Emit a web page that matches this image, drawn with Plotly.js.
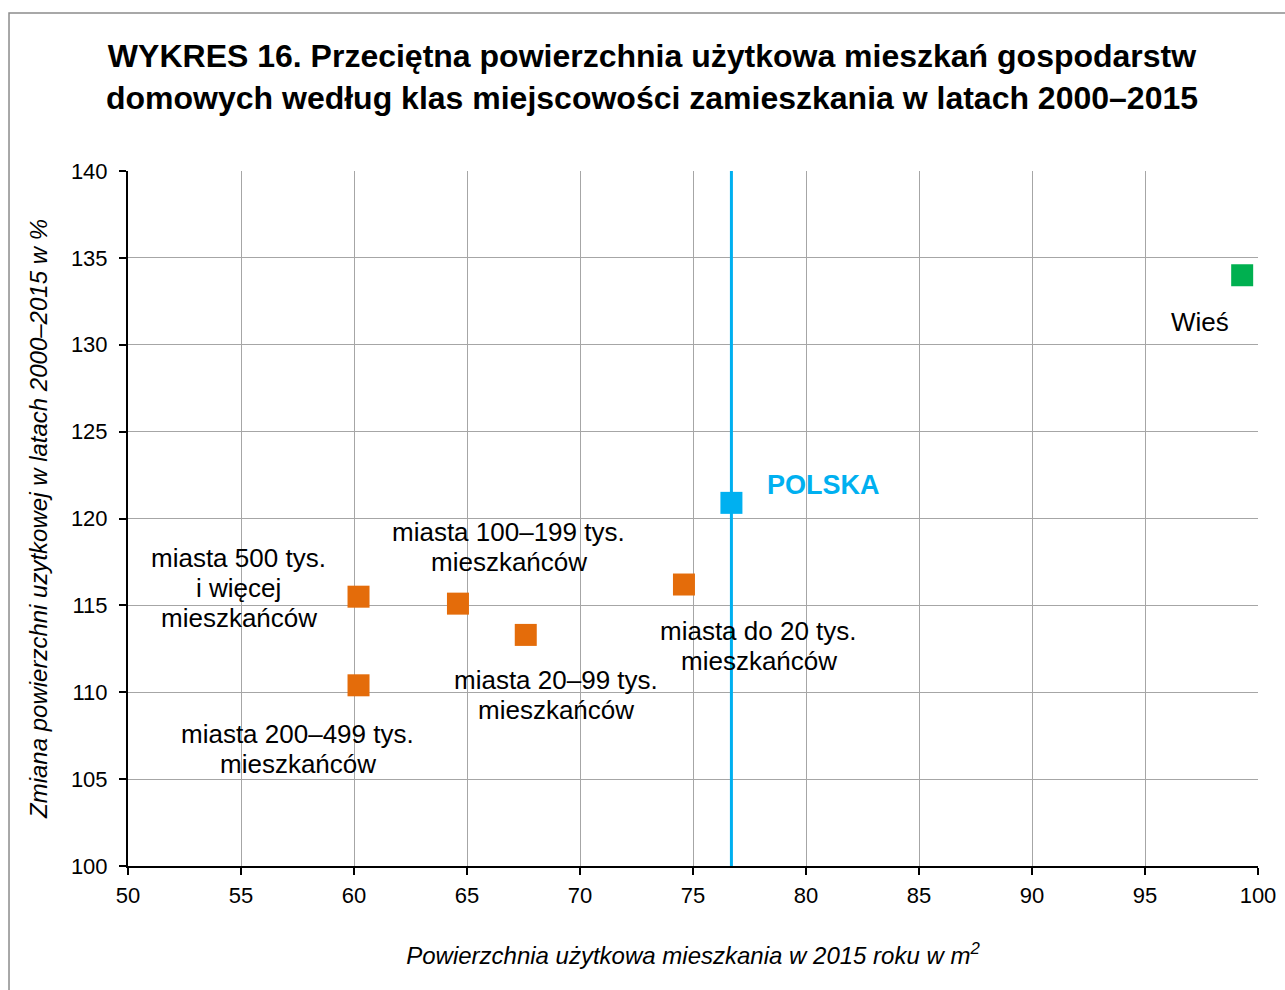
<!DOCTYPE html>
<html>
<head>
<meta charset="utf-8">
<script src="https://cdn.plot.ly/plotly-3.0.1.min.js"></script>
<style>
html,body{margin:0;padding:0;background:#fff;}
#chart{width:1285px;height:990px;}
</style>
</head>
<body>
<div id="chart"></div>
<script>
// ---- data ----
const cityNames = ["miasta 500 tys.<br>i więcej<br>mieszkańców", "miasta 200–499 tys.<br>mieszkańców", "miasta 100–199 tys.<br>mieszkańców", "miasta 20–99 tys.<br>mieszkańców", "miasta do 20 tys.<br>mieszkańców"];
const cityArea = [60.2, 60.2, 64.6, 67.6, 74.6];
const cityChange = [115.5, 110.4, 115.1, 113.3, 116.2];
const ruralName = ["Wieś"];
const ruralArea = [99.3];
const ruralChange = [134.0];
const polandName = ["POLSKA"];
const polandArea = [76.7];
const polandChange = [120.9];
const polandLineX = [76.7, 76.7];
const polandLineY = [100, 140];
const xTicks = [50, 55, 60, 65, 70, 75, 80, 85, 90, 95, 100];
const yTicks = [100, 105, 110, 115, 120, 125, 130, 135, 140];

// label offsets (pixels) relative to each point
const cityShift = [[-120, 9], [-61, -64], [51, 57], [30, -60], [75, -61]];
const ruralShift = [-42, -47];
const polandShift = [92, 18];
const LINE_GAP = 30;

const FONT = "Liberation Sans, Arial, sans-serif";
const ORANGE = "#E46C0A", BLUE = "#00B0F0", GREEN = "#00B050";

const traces = [
  {x: polandLineX, y: polandLineY, mode: "lines", line: {color: BLUE, width: 3}, hoverinfo: "skip", showlegend: false},
  {x: cityArea, y: cityChange, mode: "markers", marker: {symbol: "square", size: 22, color: ORANGE}, showlegend: false},
  {x: ruralArea, y: ruralChange, mode: "markers", marker: {symbol: "square", size: 22, color: GREEN}, showlegend: false},
  {x: polandArea, y: polandChange, mode: "markers", marker: {symbol: "square", size: 22, color: BLUE}, showlegend: false}
];

const annotations = [];
function addLabel(text, x, y, shift, font) {
  const lines = text.split("<br>");
  const n = lines.length;
  lines.forEach((ln, k) => annotations.push({
    x: x, y: y, xref: "x", yref: "y", text: ln, showarrow: false,
    xshift: shift[0], yshift: shift[1] - (k - (n - 1) / 2) * LINE_GAP,
    xanchor: "center", yanchor: "middle", align: "center", font: font
  }));
}
const labelFont = {family: FONT, size: 26, color: "#000"};
cityNames.forEach((n, i) => addLabel(n, cityArea[i], cityChange[i], cityShift[i], labelFont));
addLabel(ruralName[0], ruralArea[0], ruralChange[0], ruralShift, labelFont);
addLabel("<b>" + polandName[0] + "</b>", polandArea[0], polandChange[0], polandShift, {family: FONT, size: 27, color: BLUE});

const layout = {
  width: 1285, height: 990,
  margin: {l: 128, r: 27, t: 171, b: 124},
  paper_bgcolor: "#fff", plot_bgcolor: "#fff",
  font: {family: FONT, color: "#000"},
  title: {
    text: "<b>WYKRES 16. Przeciętna powierzchnia użytkowa mieszkań gospodarstw<br>domowych według klas miejscowości zamieszkania w latach 2000–2015</b>",
    x: 0.5074, xref: "container", xanchor: "center",
    y: 0.932, yref: "container", yanchor: "top",
    font: {family: FONT, size: 32, color: "#000"}
  },
  xaxis: {
    range: [50, 100], tickvals: xTicks, ticktext: xTicks.map(String),
    showgrid: true, gridcolor: "#a6a6a6", gridwidth: 1,
    zeroline: false, showline: true, linecolor: "#000", linewidth: 2,
    ticks: "outside", ticklen: 7, tickwidth: 2, tickcolor: "#000",
    tickfont: {family: FONT, size: 22, color: "#000"},
    ticklabelstandoff: 2,
    title: {text: "<i>Powierzchnia użytkowa mieszkania w 2015 roku w m<sup>2</sup></i>", standoff: 40,
      font: {family: FONT, size: 24, color: "#000"}},
    automargin: false, fixedrange: true
  },
  yaxis: {
    range: [100, 140], tickvals: yTicks, ticktext: yTicks.map(String),
    showgrid: true, gridcolor: "#a6a6a6", gridwidth: 1,
    zeroline: false, showline: true, linecolor: "#000", linewidth: 2,
    ticks: "outside", ticklen: 7, tickwidth: 2, tickcolor: "#000",
    tickfont: {family: FONT, size: 22, color: "#000"},
    ticklabelstandoff: 7,
    title: {text: "<i>Zmiana powierzchni uzytkowej w latach 2000–2015 w %</i>", standoff: 16,
      font: {family: FONT, size: 24, color: "#000"}},
    automargin: false, fixedrange: true
  },
  annotations: annotations,
  shapes: [{
    type: "rect", xref: "paper", yref: "paper",
    x0: -0.1053, x1: 1.03, y0: -0.19, y1: 1.2273,
    line: {color: "#8c8c8c", width: 1.5}, fillcolor: "rgba(0,0,0,0)", layer: "below"
  }],
  showlegend: false
};

Plotly.newPlot("chart", traces, layout, {displayModeBar: false, staticPlot: true});
</script>
</body>
</html>
